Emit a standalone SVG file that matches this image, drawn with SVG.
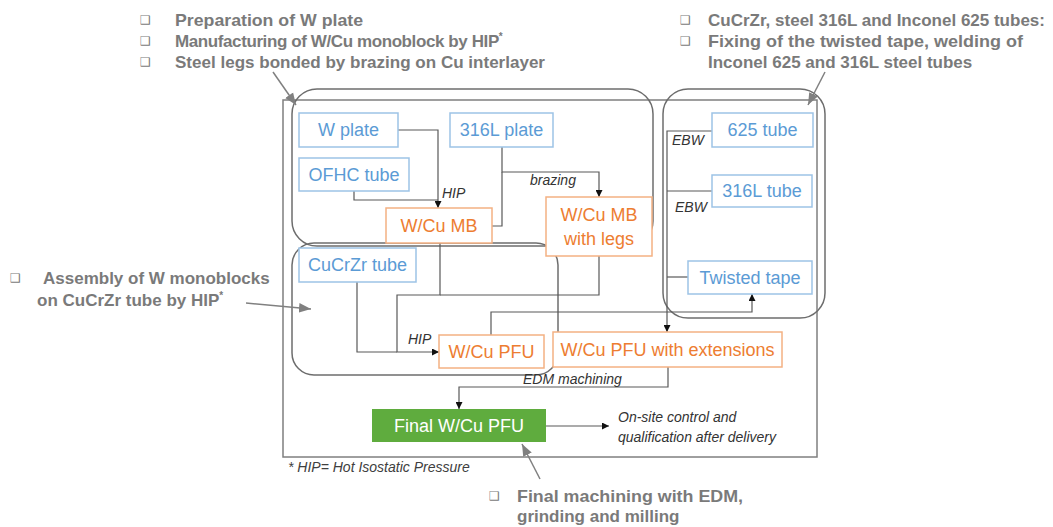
<svg xmlns="http://www.w3.org/2000/svg" width="1053" height="527" viewBox="0 0 1053 527">
<defs>
<style>
.ann{font-family:"Liberation Sans",Arial,sans-serif;font-weight:bold;font-size:17px;fill:#7a7a7a}
.bul{font-family:"DejaVu Sans",sans-serif;font-size:12px;fill:#7a7a7a}
.sup{font-size:10px}
.lbl{font-family:"Liberation Sans",Arial,sans-serif;font-style:italic;font-size:14px;fill:#333333}
.bn rect{fill:#ffffff;stroke:#9dc3e6;stroke-width:1.5}
.bn text{font-family:"Liberation Sans",Arial,sans-serif;font-size:18px;fill:#5b9bd5;text-anchor:middle}
.on rect{fill:#ffffff;stroke:#f4b183;stroke-width:1.5}
.on text{font-family:"Liberation Sans",Arial,sans-serif;font-size:18px;fill:#ed7d31;text-anchor:middle}
.gn rect{fill:#5fac3e;stroke:none}
.gn text{font-family:"Liberation Sans",Arial,sans-serif;font-size:18px;fill:#ffffff;text-anchor:middle}
.grp{fill:none;stroke:#6d6d6d;stroke-width:1.5}
.con path{fill:none;stroke:#595959;stroke-width:1.2}
.call path{fill:none;stroke:#808080;stroke-width:1.5}
</style>
<marker id="ah" viewBox="0 0 10 10" refX="10" refY="5" markerWidth="7" markerHeight="7" markerUnits="userSpaceOnUse" orient="auto">
<path d="M0,0 L10,5 L0,10 z" fill="#111111"/>
</marker>
<marker id="ch" viewBox="0 0 10 10" refX="10" refY="5" markerWidth="12" markerHeight="12" markerUnits="userSpaceOnUse" orient="auto">
<path d="M0,1 L10,5 L0,9 z" fill="#808080"/>
</marker>
</defs>
<rect width="1053" height="527" fill="#ffffff"/>

<!-- main frame -->
<rect x="283" y="100" width="534" height="357" fill="none" stroke="#7f7f7f" stroke-width="1.5"/>

<!-- group outlines -->
<g id="groups">
<rect class="grp" x="292" y="89" width="361" height="157" rx="25"/>
<rect class="grp" x="663" y="89" width="162" height="229" rx="25"/>
<rect class="grp" x="292" y="243" width="266" height="132" rx="22"/>
</g>

<!-- connectors -->
<g id="connectors" class="con">
<path d="M398,130 H438 V208" marker-end="url(#ah)"/>
<path d="M354,191 V200 H438"/>
<path d="M502,147 V172 H599 V197" marker-end="url(#ah)"/>
<path d="M502,172 V226 H492"/>
<path d="M440,243 V295 H397 V352 H439" marker-end="url(#ah)"/>
<path d="M599,256 V295 H440"/>
<path d="M357,282 V352 H397"/>
<path d="M491,335 V312 H752 V294" marker-end="url(#ah)"/>
<path d="M712,131 H667 V332" marker-end="url(#ah)"/>
<path d="M712,191 H667"/>
<path d="M688,277 H667"/>
<path d="M668,367 V387 H459 V409" marker-end="url(#ah)"/>
<path d="M546,426 H609" marker-end="url(#ah)"/>
</g>

<!-- connector labels -->
<g id="labels">
<text class="lbl" x="442" y="198">HIP</text>
<text class="lbl" x="530" y="185">brazing</text>
<text class="lbl" x="408" y="344">HIP</text>
<text class="lbl" x="672" y="145">EBW</text>
<text class="lbl" x="675" y="212">EBW</text>
<text class="lbl" x="523" y="384">EDM machining</text>
<text class="lbl" x="618" y="422">On-site control and</text>
<text class="lbl" x="618" y="442">qualification after delivery</text>
<text class="lbl" x="288" y="472" style="fill:#404040">* HIP= Hot Isostatic Pressure</text>
</g>

<!-- nodes -->
<g id="n-wplate" class="bn"><rect x="299" y="113" width="99" height="34"/><text x="348.5" y="136">W plate</text></g>
<g id="n-316lplate" class="bn"><rect x="450" y="113" width="103" height="34"/><text x="501.5" y="136">316L plate</text></g>
<g id="n-ofhc" class="bn"><rect x="299" y="158" width="110" height="33"/><text x="354" y="181">OFHC tube</text></g>
<g id="n-wcumb" class="on"><rect x="386" y="208" width="106" height="35"/><text x="439" y="232">W/Cu MB</text></g>
<g id="n-wcumblegs" class="on"><rect x="546" y="197" width="106" height="59"/><text x="599" y="221">W/Cu MB</text><text x="599" y="245">with legs</text></g>
<g id="n-cucrzr" class="bn"><rect x="299" y="248" width="117" height="34"/><text x="357.5" y="271">CuCrZr tube</text></g>
<g id="n-wcupfu" class="on"><rect x="439" y="335" width="105" height="33"/><text x="491.5" y="358">W/Cu PFU</text></g>
<g id="n-wcupfuext" class="on"><rect x="553" y="332" width="229" height="35"/><text x="667.5" y="356">W/Cu PFU with extensions</text></g>
<g id="n-625tube" class="bn"><rect x="712" y="113" width="101" height="34"/><text x="762.5" y="136">625 tube</text></g>
<g id="n-316ltube" class="bn"><rect x="712" y="175" width="100" height="32"/><text x="762" y="197">316L tube</text></g>
<g id="n-twisted" class="bn"><rect x="688" y="261" width="124" height="33"/><text x="750" y="284">Twisted tape</text></g>
<g id="n-final" class="gn"><rect x="372" y="409" width="174" height="33"/><text x="459" y="432">Final W/Cu PFU</text></g>

<!-- callouts -->
<g id="callouts" class="call">
<path d="M273,72 L296,105" marker-end="url(#ch)"/>
<path d="M825,72 L808,105" marker-end="url(#ch)"/>
<path d="M246,303 L311,309" marker-end="url(#ch)"/>
<path d="M540,479 L522,444" marker-end="url(#ch)"/>
</g>

<!-- annotation texts -->
<g id="ann-topleft">
<text class="bul" x="140" y="24">❑</text>
<text class="bul" x="140" y="45">❑</text>
<text class="bul" x="140" y="66">❑</text>
<text class="ann" x="175" y="26" textLength="188" lengthAdjust="spacingAndGlyphs">Preparation of W plate</text>
<text class="ann" x="175" y="47" style="letter-spacing:-0.4px">Manufacturing of W/Cu monoblock by HIP<tspan class="sup" dy="-7">*</tspan></text>
<text class="ann" x="175" y="68" textLength="370" lengthAdjust="spacingAndGlyphs">Steel legs bonded by brazing on Cu interlayer</text>
</g>
<g id="ann-topright">
<text class="bul" x="680" y="24">❑</text>
<text class="bul" x="680" y="45">❑</text>
<text class="ann" x="708" y="26">CuCrZr, steel 316L and Inconel 625 tubes:</text>
<text class="ann" x="708" y="47" textLength="315" lengthAdjust="spacingAndGlyphs">Fixing of the twisted tape, welding of</text>
<text class="ann" x="708" y="68">Inconel 625 and 316L steel tubes</text>
</g>
<g id="ann-left">
<text class="bul" x="10" y="282">❑</text>
<text class="ann" x="43" y="284">Assembly of W monoblocks</text>
<text class="ann" x="37" y="306">on CuCrZr tube by HIP<tspan class="sup" dy="-7">*</tspan></text>
</g>
<g id="ann-bottom">
<text class="bul" x="489" y="500">❑</text>
<text class="ann" x="517" y="502" textLength="226" lengthAdjust="spacingAndGlyphs">Final machining with EDM,</text>
<text class="ann" x="517" y="522">grinding and milling</text>
</g>
</svg>
